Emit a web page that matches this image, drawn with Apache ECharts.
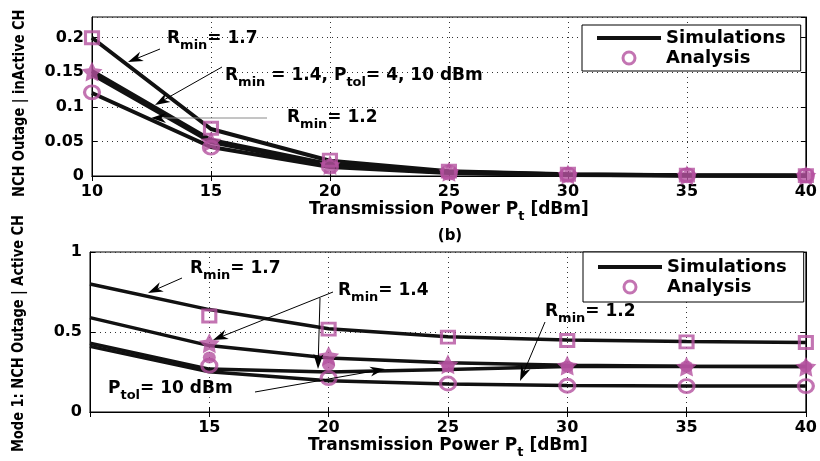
<!DOCTYPE html>
<html>
<head>
<meta charset="utf-8">
<script src="https://cdn.jsdelivr.net/npm/echarts@6/dist/echarts.min.js"></script>
<style>
  html, body { margin: 0; padding: 0; background: #fff; }
  #chart { width: 820px; height: 461px; }
</style>
</head>
<body>
<div id="chart"></div>
<script>
// Transmission power grid shared by both panels [dBm]
const powers = [10, 15, 20, 25, 30, 35, 40];

// Upper panel: NCH outage given an inactive CH
const topSimR17 = [0.200, 0.068, 0.022, 0.007, 0.0025, 0.0012, 0.0006];
const topSimR14Ptol4 = [0.152, 0.052, 0.017, 0.006, 0.002, 0.001, 0.0005];
const topSimR14Ptol10 = [0.147, 0.049, 0.015, 0.0052, 0.0018, 0.0009, 0.0005];
const topSimR12 = [0.120, 0.042, 0.013, 0.0045, 0.0015, 0.0008, 0.0004];
const topAnaR17 = [0.200, 0.069, 0.023, 0.007, 0.0025, 0.0012, 0.0006];
const topAnaR14 = [0.151, 0.050, 0.016, 0.006, 0.002, 0.001, 0.0006];
const topAnaR12 = [0.121, 0.041, 0.0135, 0.005, 0.0018, 0.0009, 0.0005];

// Lower panel (Mode 1): NCH outage given an active CH
const botSimR17 = [0.80, 0.64, 0.52, 0.47, 0.45, 0.44, 0.435];
const botSimR14 = [0.59, 0.415, 0.338, 0.308, 0.292, 0.286, 0.285];
const botSimR12Ptol10 = [0.43, 0.268, 0.25, 0.265, 0.284, 0.285, 0.285];
const botSimR12 = [0.41, 0.252, 0.195, 0.175, 0.165, 0.162, 0.162];
const botAnaR17 = [null, 0.60, 0.518, 0.468, 0.447, 0.438, 0.434];
const botAnaR14 = [null, 0.43, 0.35, 0.298, 0.29, 0.284, 0.283];
const botAnaR12Ptol10 = [null, 0.34, 0.294, 0.285, 0.285, 0.284, 0.283];
const botAnaR12 = [null, 0.29, 0.212, 0.178, 0.164, 0.162, 0.162];

// Axis tick values
const xTicks = { min: 10, max: 40, step: 5 };
const yTopTicks = { min: 0, max: 0.23, step: 0.05 };
const yBotTicks = { min: 0, max: 1, step: 0.5 };

const MAG = '#b4519f';
const FONT = 'DejaVu Sans';
const STAR = 'path://M0,-10L2.939,-4.045L9.511,-3.09L4.755,1.545L5.878,8.09L0,5L-5.878,8.09L-4.755,1.545L-9.511,-3.09L-2.939,-4.045Z';

const pairs = ys => powers.map((x, i) => ys[i] == null ? null : [x, ys[i]]).filter(p => p);

function simLine(ys, g, width) {
  return {
    name: 'Simulations', type: 'line', xAxisIndex: g * 2, yAxisIndex: g * 2,
    data: pairs(ys), symbol: 'none', smooth: false, z: 2,
    lineStyle: { color: '#111', width: width }, itemStyle: { color: '#111' }
  };
}
function anaPoints(ys, g, kind) {
  const s = {
    name: 'Analysis', type: 'scatter', xAxisIndex: g * 2, yAxisIndex: g * 2,
    data: pairs(ys), z: 4
  };
  if (kind === 'square') {
    s.symbol = 'rect'; s.symbolSize = [13, 12];
    s.itemStyle = { color: 'rgba(255,255,255,0)', borderColor: MAG, borderWidth: 3 };
  } else if (kind === 'circle') {
    s.symbol = 'circle'; s.symbolSize = [15, 13];
    s.itemStyle = { color: 'rgba(255,255,255,0)', borderColor: MAG, borderWidth: 3 };
  } else if (kind === 'dot') {
    s.symbol = 'circle'; s.symbolSize = [13, 12];
    s.itemStyle = { color: MAG };
  } else {
    s.symbol = STAR; s.symbolSize = [21, 20]; s.z = 5;
    s.itemStyle = { color: MAG };
  }
  return s;
}

const tickFont = { fontFamily: FONT, fontWeight: 'bold', fontSize: 16, color: '#000' };
const dotted = { show: true, lineStyle: { type: [1, 4], color: '#333', width: 1 } };
const blackLine = { show: true, lineStyle: { color: '#000', width: 1 } };
const inTick = { show: true, inside: true, length: 5, lineStyle: { color: '#000' } };
const nameRich = {
  a: { fontFamily: FONT, fontWeight: 'bold', fontSize: 17, color: '#000' },
  s: { fontFamily: FONT, fontWeight: 'bold', fontSize: 13, color: '#000', padding: [14, 0, 0, 0] }
};

function xAxes(g, gap, hideMin) {
  return [{
    type: 'value', gridIndex: g, min: xTicks.min, max: xTicks.max, interval: xTicks.step,
    axisLine: blackLine, axisTick: inTick, splitLine: dotted,
    axisLabel: Object.assign({ margin: 8, showMinLabel: !hideMin }, tickFont),
    name: '{a|Transmission Power P}{s|t}{a| [dBm]}', nameLocation: 'middle', nameGap: gap,
    nameTextStyle: { rich: nameRich }
  }, {
    type: 'value', gridIndex: g, position: 'top', min: xTicks.min, max: xTicks.max, interval: xTicks.step,
    axisLine: blackLine, axisTick: inTick, splitLine: { show: false }, axisLabel: { show: false }
  }];
}
function yAxes(g, t, showMax) {
  return [{
    type: 'value', gridIndex: g, min: t.min, max: t.max, interval: t.step,
    axisLine: blackLine, axisTick: inTick, splitLine: dotted,
    axisLabel: Object.assign({ margin: 8, showMaxLabel: showMax }, tickFont)
  }, {
    type: 'value', gridIndex: g, position: 'right', min: t.min, max: t.max, interval: t.step,
    axisLine: blackLine, axisTick: inTick, splitLine: { show: false }, axisLabel: { show: false }
  }];
}

function legendAt(left, top, padding) {
  return {
    orient: 'vertical', left: left, top: top, selectedMode: false,
    itemWidth: 64, itemHeight: 12, itemGap: 2, padding: padding,
    borderColor: '#000', borderWidth: 1, backgroundColor: '#fff', borderRadius: 0,
    textStyle: { fontFamily: FONT, fontWeight: 'bold', fontSize: 18, color: '#000' },
    data: [
      { name: 'Simulations', itemStyle: { opacity: 0 }, lineStyle: { width: 4, color: '#111' } },
      { name: 'Analysis', icon: 'circle', itemStyle: { color: 'rgba(255,255,255,0)', borderColor: MAG, borderWidth: 3 } }
    ]
  };
}

const chart = echarts.init(document.getElementById('chart'), null, { renderer: 'canvas' });

const option = {
  animation: false,
  backgroundColor: '#fff',
  grid: [
    { left: 92, top: 17, width: 717, height: 159, show: true, borderColor: '#000', borderWidth: 1, backgroundColor: 'transparent' },
    { left: 90, top: 252, width: 719, height: 160, show: true, borderColor: '#000', borderWidth: 1, backgroundColor: 'transparent' }
  ],
  xAxis: [].concat(xAxes(0, 18, false), xAxes(1, 9, true)),
  yAxis: [].concat(yAxes(0, yTopTicks, false), yAxes(1, yBotTicks, true)),
  legend: [legendAt(582, 25, [4, 15, 4, 13]), legendAt(583, 252, [6, 17, 6, 13])],
  series: [
    simLine(topSimR17, 0, 4),
    simLine(topSimR14Ptol4, 0, 4),
    simLine(topSimR14Ptol10, 0, 4),
    simLine(topSimR12, 0, 4),
    anaPoints(topAnaR12, 0, 'circle'),
    anaPoints(topAnaR17, 0, 'square'),
    anaPoints(topAnaR14, 0, 'star'),

    simLine(botSimR17, 1, 3.5),
    simLine(botSimR14, 1, 3.5),
    simLine(botSimR12Ptol10, 1, 3.5),
    simLine(botSimR12, 1, 3.5),
    anaPoints(botAnaR12, 1, 'circle'),
    anaPoints(botAnaR12Ptol10, 1, 'dot'),
    anaPoints(botAnaR17, 1, 'square'),
    anaPoints(botAnaR14, 1, 'star')
  ]
};
chart.setOption(option);

// ---- text annotations, arrows and axis titles ----
const annRich = {
  a: { fontFamily: FONT, fontWeight: 'bold', fontSize: 17, color: '#000' },
  s: { fontFamily: FONT, fontWeight: 'bold', fontSize: 13, color: '#000', padding: [14, 0, 0, 0] }
};
function label(x, y, text) {
  return { type: 'text', x: x, y: y, z: 20, silent: true,
    style: { text: text, rich: annRich, align: 'left', verticalAlign: 'middle' } };
}
function arrow(x1, y1, x2, y2, lineColor) {
  const dx = x2 - x1, dy = y2 - y1, len = Math.hypot(dx, dy);
  const ux = dx / len, uy = dy / len, nx = -uy, ny = ux;
  const L = 15, W = 5;
  const head = [
    [x2, y2],
    [x2 - L * ux + W * nx, y2 - L * uy + W * ny],
    [x2 - 0.7 * L * ux, y2 - 0.7 * L * uy],
    [x2 - L * ux - W * nx, y2 - L * uy - W * ny]
  ];
  return [
    { type: 'line', z: 19, silent: true,
      shape: { x1: x1, y1: y1, x2: x2 - 0.7 * L * ux, y2: y2 - 0.7 * L * uy },
      style: { stroke: lineColor || '#000', lineWidth: 1 } },
    { type: 'polygon', z: 19, silent: true, shape: { points: head }, style: { fill: '#000' } }
  ];
}
function yTitle(x, yStart, text) {
  return { type: 'text', x: x, y: yStart, rotation: Math.PI / 2, scaleY: 1.2, z: 20, silent: true,
    style: { text: text, fontFamily: FONT, fontWeight: 'bold', fontSize: 13, fill: '#000', align: 'left', verticalAlign: 'middle' } };
}

const graphics = [].concat(
  // upper panel
  label(167, 39, '{a|R}{s|min}{a|= 1.7}'),
  arrow(160, 49, 128, 62),
  label(225, 76, '{a|R}{s|min}{a| = 1.4, P}{s|tol}{a|= 4, 10 dBm}'),
  arrow(222, 67, 155, 105),
  label(287, 118, '{a|R}{s|min}{a|= 1.2}'),
  arrow(267, 118, 151, 118, '#8a8a8a'),
  // lower panel
  label(190, 269, '{a|R}{s|min}{a|= 1.7}'),
  arrow(182, 278, 148, 293),
  label(338, 291, '{a|R}{s|min}{a|= 1.4}'),
  arrow(333, 292, 213, 340),
  arrow(320, 298, 318, 369),
  label(108, 389, '{a|P}{s|tol}{a|= 10 dBm}'),
  arrow(255, 392, 385, 369),
  label(545, 312, '{a|R}{s|min}{a|= 1.2}'),
  arrow(545, 322, 520, 381),
  // panel tag
  { type: 'text', x: 450, y: 236, z: 20, silent: true,
    style: { text: '(b)', fontFamily: FONT, fontWeight: 'bold', fontSize: 15, fill: '#000', align: 'center', verticalAlign: 'middle' } },
  // y-axis titles
  yTitle(20, 197, 'NCH Outage | inActive CH'),
  yTitle(19, 452, 'Mode 1: NCH Outage | Active CH')
);
chart.setOption({ graphic: { elements: graphics } });
</script>
</body>
</html>
